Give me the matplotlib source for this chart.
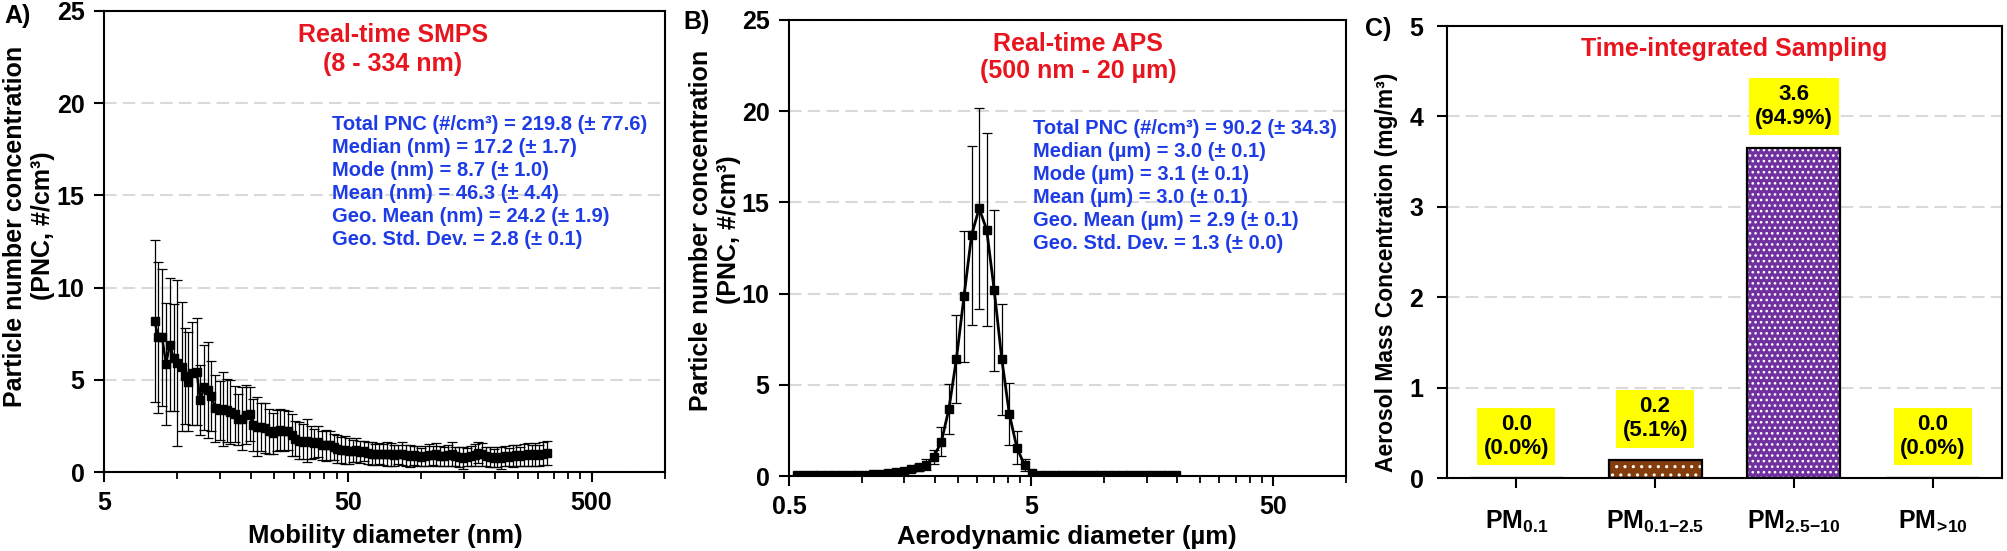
#!/usr/bin/env python3
# -*- coding: utf-8 -*-

import matplotlib
matplotlib.use("Agg")
import matplotlib.pyplot as plt
from matplotlib.ticker import FixedLocator, NullFormatter

plt.rcParams['font.family'] = ['Liberation Sans', 'DejaVu Sans']
plt.rcParams['font.weight'] = 'bold'
plt.rcParams['mathtext.fontset'] = 'custom'
plt.rcParams['mathtext.rm'] = 'Liberation Sans:bold'
plt.rcParams['mathtext.bf'] = 'Liberation Sans:bold'
plt.rcParams['mathtext.it'] = 'Liberation Sans:bold'
plt.rcParams['hatch.linewidth'] = 1.1

# --- A) SMPS size distribution (mobility diameter, nm) ---
smps_d = [8.06, 8.35, 8.66, 8.98, 9.31, 9.65, 10.0, 10.4, 10.7, 11.1,
          11.5, 12.0, 12.4, 12.9, 13.3, 13.8, 14.3, 14.9, 15.4, 16.0,
          16.5, 17.2, 17.8, 18.4, 19.1, 19.8, 20.5, 21.3, 22.1, 22.9,
          23.7, 24.6, 25.5, 26.4, 27.4, 28.4, 29.4, 30.5, 31.6, 32.8,
          34.0, 35.2, 36.5, 37.9, 39.2, 40.7, 42.2, 43.7, 45.3, 47.0,
          48.7, 50.5, 52.3, 54.2, 56.2, 58.3, 60.4, 62.6, 64.9, 67.3,
          69.8, 72.3, 75.0, 77.7, 80.6, 83.5, 86.6, 89.8, 93.1, 96.5,
          100.0, 103.7, 107.5, 111.4, 115.5, 119.7, 124.1, 128.6, 133.3, 138.2,
          143.3, 148.6, 154.0, 159.6, 165.5, 171.5, 177.8, 184.4, 191.1, 198.1,
          205.4, 212.9, 220.7, 228.8, 237.2, 245.9, 254.8, 264.2, 273.8, 283.9,
          294.3, 305.1, 316.2, 327.8]
smps_pnc = [8.2, 7.3, 7.3, 5.85, 6.9, 6.2, 5.9, 5.7, 5.2, 4.9,
            5.35, 5.45, 3.9, 4.6, 4.45, 4.1, 3.45, 3.35, 3.4, 3.35,
            3.25, 3.15, 2.85, 2.9, 3.1, 3.15, 2.55, 2.45, 2.45, 2.4,
            2.2, 2.1, 2.25, 2.3, 2.25, 2.25, 2.0, 1.8, 1.7, 1.65,
            1.7, 1.6, 1.55, 1.65, 1.45, 1.45, 1.45, 1.35, 1.25, 1.2,
            1.2, 1.15, 1.15, 1.2, 1.1, 1.15, 1.05, 1.0, 0.95, 1.0,
            0.95, 1.0, 0.95, 0.9, 0.95, 1.0, 0.9, 0.85, 0.9, 0.85,
            0.8, 0.85, 0.9, 0.9, 0.95, 0.85, 0.85, 0.9, 0.95, 0.85,
            0.8, 0.75, 0.8, 0.85, 0.9, 1.05, 0.95, 0.85, 0.8, 0.75,
            0.8, 0.75, 0.85, 0.8, 0.85, 0.9, 0.85, 0.9, 0.95, 0.9,
            0.95, 0.9, 1.0, 1.05]
smps_sd = [4.4, 4.1, 3.7, 3.3, 3.6, 2.9, 4.5, 3.5, 2.6, 2.7,
           2.8, 2.9, 1.9, 2.3, 2.6, 1.9, 1.8, 1.6, 2.0, 1.7,
           1.75, 1.5, 1.4, 1.7, 1.6, 1.45, 1.4, 1.6, 1.3, 1.35,
           1.2, 1.1, 1.1, 1.1, 1.1, 1.05, 1.15, 0.95, 1.0, 0.95,
           1.15, 0.9, 0.8, 0.85, 0.8, 0.85, 0.8, 0.7, 0.75, 0.7,
           0.75, 0.7, 0.6, 0.65, 0.6, 0.55, 0.6, 0.6, 0.55, 0.55,
           0.55, 0.65, 0.6, 0.55, 0.5, 0.6, 0.55, 0.6, 0.5, 0.55,
           0.5, 0.55, 0.6, 0.5, 0.6, 0.55, 0.5, 0.55, 0.65, 0.5,
           0.55, 0.6, 0.5, 0.55, 0.6, 0.55, 0.6, 0.5, 0.55, 0.5,
           0.55, 0.6, 0.55, 0.5, 0.6, 0.55, 0.5, 0.6, 0.6, 0.55,
           0.6, 0.55, 0.6, 0.65]
smps_stats = ["Total PNC (#/cm³) = 219.8 (± 77.6)",
              "Median (nm) = 17.2 (± 1.7)",
              "Mode (nm) = 8.7 (± 1.0)",
              "Mean (nm) = 46.3 (± 4.4)",
              "Geo. Mean (nm) = 24.2 (± 1.9)",
              "Geo. Std. Dev. = 2.8 (± 0.1)"]

# --- B) APS size distribution (aerodynamic diameter, um) ---
aps_d = [0.542, 0.583, 0.626, 0.673, 0.723, 0.777, 0.835, 0.898, 0.965, 1.037,
         1.114, 1.197, 1.286, 1.382, 1.486, 1.596, 1.715, 1.843, 1.981, 2.129,
         2.288, 2.458, 2.642, 2.839, 3.051, 3.278, 3.523, 3.786, 4.068, 4.371,
         4.698, 5.048, 5.425, 5.829, 6.264, 6.732, 7.234, 7.774, 8.354, 8.977,
         9.647, 10.37, 11.14, 11.97, 12.86, 13.82, 14.86, 15.96, 17.15, 18.43,
         19.81]
aps_pnc = [0.04, 0.04, 0.04, 0.04, 0.04, 0.04, 0.05, 0.05, 0.06, 0.08,
           0.1, 0.13, 0.17, 0.22, 0.28, 0.36, 0.48, 0.62, 1.05, 1.87,
           3.67, 6.42, 9.85, 13.2, 14.68, 13.5, 10.17, 6.4, 3.38, 1.54,
           0.6, 0.18, 0.06, 0.04, 0.03, 0.03, 0.03, 0.03, 0.03, 0.03,
           0.03, 0.03, 0.03, 0.03, 0.03, 0.03, 0.03, 0.03, 0.03, 0.03,
           0.03]
aps_sd = [0.02, 0.02, 0.02, 0.02, 0.02, 0.02, 0.02, 0.03, 0.03, 0.04,
          0.05, 0.06, 0.08, 0.1, 0.12, 0.15, 0.2, 0.3, 0.4, 0.8,
          1.35, 2.4, 3.6, 4.9, 5.5, 5.3, 4.4, 3.05, 1.7, 0.9,
          0.35, 0.1, 0.03, 0.02, 0.02, 0.02, 0.02, 0.02, 0.02, 0.02,
          0.02, 0.02, 0.02, 0.02, 0.02, 0.02, 0.02, 0.02, 0.02, 0.02,
          0.02]
aps_stats = ["Total PNC (#/cm³) = 90.2 (± 34.3)",
             "Median (µm) = 3.0 (± 0.1)",
             "Mode (µm) = 3.1 (± 0.1)",
             "Mean (µm) = 3.0 (± 0.1)",
             "Geo. Mean (µm) = 2.9 (± 0.1)",
             "Geo. Std. Dev. = 1.3 (± 0.0)"]

# --- C) time-integrated mass ---
pm_labels = [r'$\mathbf{PM}_{\mathbf{0.1}}$',
             r'$\mathbf{PM}_{\mathbf{0.1{-}2.5}}$',
             r'$\mathbf{PM}_{\mathbf{2.5{-}10}}$',
             r'$\mathbf{PM}_{\!\mathbf{>}\!\mathbf{10}}$']
pm_mass = [0.0, 0.195, 3.65, 0.0]
pm_pct = [0.0, 5.1, 94.9, 0.0]
pm_colors = ['#843c0c', '#843c0c', '#7030a0', '#7030a0']
pm_hatch = ['..', '..', '...', '...']

RED = '#e8141e'
BLUE = '#1e3ce6'
GRID = '#d9d9d9'
W, H = 2008, 551

fig = plt.figure(figsize=(W / 100, H / 100), dpi=100)


def px_axes(left, top, right, bottom):
    return fig.add_axes([left / W, 1 - bottom / H, (right - left) / W, (bottom - top) / H])


def fig_text(x, y, s, **kw):
    fig.text(x / W, 1 - y / H, s, **kw)


def style_axes(ax):
    for sp in ax.spines.values():
        sp.set_linewidth(1.5)
    ax.tick_params(which='major', direction='out', length=7, width=1.5, labelsize=18, pad=7)
    ax.tick_params(which='minor', direction='out', length=5, width=1.3)
    ax.yaxis.grid(True, linestyle=(0, (6, 3)), color=GRID, linewidth=1.5)
    ax.set_axisbelow(True)


def log_axis(ax, lo, hi, majors):
    ax.set_xscale('log')
    ax.set_xlim(lo, hi)
    ax.xaxis.set_major_locator(FixedLocator(majors))
    ax.set_xticklabels([('%g' % m) for m in majors])
    minors = [k * m for m in majors for k in range(2, 10) if k * m <= hi * 1.001]
    ax.xaxis.set_minor_locator(FixedLocator(minors))
    ax.xaxis.set_minor_formatter(NullFormatter())


# ---------- A ----------
axA = px_axes(104, 11, 665, 472)
style_axes(axA)
axA.errorbar(smps_d, smps_pnc, yerr=smps_sd, fmt='s-', color='black', ms=5.5,
             lw=1.8, elinewidth=0.9, ecolor='black', capsize=3.5, capthick=0.9)
log_axis(axA, 5, 1000, [5, 50, 500])
axA.set_ylim(0, 25)
axA.set_yticks(range(0, 26, 5))
axA.text(0.515, 0.948, "Real-time SMPS", transform=axA.transAxes, color=RED,
         fontsize=18, ha='center', va='center')
axA.text(0.515, 0.885, "(8 - 334 nm)", transform=axA.transAxes, color=RED,
         fontsize=18, ha='center', va='center')
for i, s in enumerate(smps_stats):
    axA.text(0.406, 0.753 - i * 0.0499, s, transform=axA.transAxes, color=BLUE,
             fontsize=14.5, ha='left', va='center')

# ---------- B ----------
axB = px_axes(789, 20, 1346, 476)
style_axes(axB)
axB.errorbar(aps_d, aps_pnc, yerr=aps_sd, fmt='s-', color='black', ms=6,
             lw=2, elinewidth=0.9, ecolor='black', capsize=3.5, capthick=0.9)
log_axis(axB, 0.5, 100, [0.5, 5, 50])
axB.set_ylim(0, 25)
axB.set_yticks(range(0, 26, 5))
axB.text(0.519, 0.947, "Real-time APS", transform=axB.transAxes, color=RED,
         fontsize=18, ha='center', va='center')
axB.text(0.519, 0.888, "(500 nm - 20 µm)", transform=axB.transAxes, color=RED,
         fontsize=18, ha='center', va='center')
for i, s in enumerate(aps_stats):
    axB.text(0.438, 0.761 - i * 0.0504, s, transform=axB.transAxes, color=BLUE,
             fontsize=14.5, ha='left', va='center')

# ---------- C ----------
axC = px_axes(1447, 26, 2002, 478)
style_axes(axC)
pos = list(range(len(pm_labels)))
for p, v, c, h in zip(pos, pm_mass, pm_colors, pm_hatch):
    axC.bar(p, v, width=0.67, color=c, edgecolor='white', hatch=h, linewidth=0)
axC.bar(pos, pm_mass, width=0.67, fill=False, edgecolor='black', linewidth=1.6)
for p, v, pc in zip(pos, pm_mass, pm_pct):
    axC.text(p, v + 0.46, "%.1f\n(%.1f%%)" % (v, pc), ha='center', va='center',
             fontsize=16, linespacing=1.2,
             bbox=dict(boxstyle='square,pad=0.28', fc='#ffff00', ec='none'))
axC.set_xlim(-0.5, 3.5)
axC.set_ylim(0, 5)
axC.set_yticks(range(0, 6))
axC.set_xticks(pos)
axC.set_xticklabels(pm_labels)
axC.tick_params(axis='x', pad=15)
axC.tick_params(axis='y', pad=10)
axC.text(0.517, 0.949, "Time-integrated Sampling", transform=axC.transAxes,
         color=RED, fontsize=18, ha='center', va='center')

# ---------- axis titles & panel letters ----------
fig_text(29, 226, "Particle number concentration\n(PNC, #/cm³)", rotation=90,
         ha='center', va='center', multialignment='center', fontsize=18, linespacing=1.2)
fig_text(715, 230, "Particle number concentration\n(PNC, #/cm³)", rotation=90,
         ha='center', va='center', multialignment='center', fontsize=18, linespacing=1.2)
fig_text(1386, 272, "Aerosol Mass Concentration (mg/m³)", rotation=90,
         ha='center', va='center', fontsize=16.5)
fig_text(385, 536, "Mobility diameter (nm)", ha='center', va='center', fontsize=18.5)
fig_text(1067, 537, "Aerodynamic diameter (µm)", ha='center', va='center', fontsize=18.5)
fig_text(4, 16, "A)", ha='left', va='center', fontsize=18)
fig_text(683, 22, "B)", ha='left', va='center', fontsize=18)
fig_text(1365, 29, "C)", ha='left', va='center', fontsize=18)

fig.savefig("out.png", dpi=100)
